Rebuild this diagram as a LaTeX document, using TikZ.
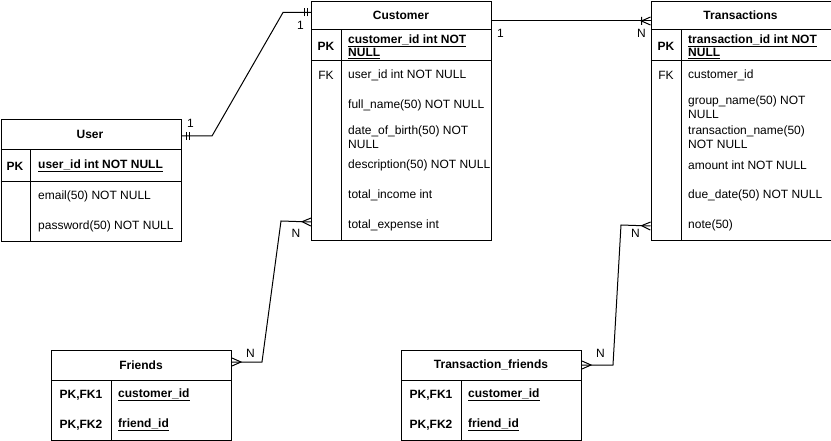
\documentclass[tikz,border=0pt]{standalone}
\usepackage{fontspec}
\setmainfont{Liberation Sans}
\usetikzlibrary{decorations.markings}
\tikzset{
  tbl/.style={draw,line width=1pt,minimum width=180pt,inner sep=0pt,anchor=north west},
  txt/.style={font=\fontsize{12}{13.5}\selectfont,inner sep=0pt},
  fld/.style={txt,anchor=west,align=left},
  pkf/.style={fld,font=\fontsize{12}{13.5}\selectfont\bfseries},
  key/.style={txt,font=\fontsize{12}{13.5}\selectfont\bfseries},
  card/.style={txt},
  conn/.style={line width=1pt},
  one start/.style={postaction={decorate,decoration={markings,mark=at position 0 with
    {\draw[line width=1pt] (5pt,-4pt)--(5pt,4pt) (8pt,-4pt)--(8pt,4pt);}}}},
  one end/.style={postaction={decorate,decoration={markings,mark=at position 1 with
    {\draw[line width=1pt] (-4pt,-4pt)--(-4pt,4pt) (-7pt,-4pt)--(-7pt,4pt);}}}},
  many start/.style={postaction={decorate,decoration={markings,mark=at position 0 with
    {\draw[line width=1pt] (0,-4pt)--(9pt,0)--(0,4pt);}}}},
  many end/.style={postaction={decorate,decoration={markings,mark=at position 1 with
    {\draw[line width=1pt] (0,-4pt)--(-9pt,0)--(0,4pt);}}}},
  onemany end/.style={postaction={decorate,decoration={markings,mark=at position 1 with
    {\draw[line width=1pt] (0,-4pt)--(-9pt,0)--(0,4pt) (-9pt,-4pt)--(-9pt,4pt);}}}},
}
\begin{document}
\begin{tikzpicture}[x=1pt,y=-1pt]
\useasboundingbox (0,0) rectangle (831,441);

% User
\node[tbl,minimum height=122pt] (user) at (0.5,119) {};
\draw[line width=1pt] (0.5,150)--(180.5,150) (0.5,182)--(180.5,182) (30,150)--(30,241);
\node[key] (usert) at (90,134.5) {User};
\node[key] (upk) at (15,166) {PK};
\node[pkf] (uid) at (38,166) {\underline{user\_id int NOT NULL}};
\node[fld] (umail) at (38,196) {email(50) NOT NULL};
\node[fld] (upass) at (38,226) {password(50) NOT NULL};

% Customer
\node[tbl,minimum height=239pt] (cust) at (311,1) {};
\draw[line width=1pt] (311,30)--(491,30) (311,61)--(491,61) (341,30)--(341,240);
\node[key] (custt) at (401,15.5) {Customer};
\node[key] (cpk) at (326,46) {PK};
\node[txt] (cfk) at (326,75) {FK};
\node[pkf] (cid) at (348,46.5) {\underline{customer\_id int NOT}\\\underline{NULL}};
\node[fld] (cuid) at (348,75) {user\_id int NOT NULL};
\node[fld] (cname) at (348,105) {full\_name(50) NOT NULL};
\node[fld] (cdob) at (348,137) {date\_of\_birth(50) NOT\\NULL};
\node[fld] (cdesc) at (348,165) {description(50) NOT NULL};
\node[fld] (cinc) at (348,195) {total\_income int};
\node[fld] (cexp) at (348,225) {total\_expense int};

% Transactions
\node[tbl,minimum height=239pt] (trans) at (650.5,1) {};
\draw[line width=1pt] (650.5,30)--(830.5,30) (650.5,61)--(830.5,61) (681,30)--(681,240);
\node[key] (transt) at (740.5,15.5) {Transactions};
\node[key] (tpk) at (666,46) {PK};
\node[txt] (tfk) at (666,75) {FK};
\node[pkf] (tid) at (688,46.5) {\underline{transaction\_id int NOT}\\\underline{NULL}};
\node[fld] (tcid) at (688,75) {customer\_id};
\node[fld] (tgrp) at (688,107) {group\_name(50) NOT\\NULL};
\node[fld] (tname) at (688,137) {transaction\_name(50)\\NOT NULL};
\node[fld] (tamt) at (688,165) {amount int NOT NULL};
\node[fld] (tdue) at (688,195) {due\_date(50) NOT NULL};
\node[fld] (tnote) at (688,225) {note(50)};

% Friends
\node[tbl,minimum height=90pt] (fr) at (51,350) {};
\draw[line width=1pt] (51,380)--(231,380) (111,380)--(111,440);
\node[key] (frt) at (141,365) {Friends};
\node[key] (fk1) at (81,395) {PK,FK1};
\node[key] (fk2) at (81,425) {PK,FK2};
\node[pkf] (fcid) at (118,395) {\underline{customer\_id}};
\node[pkf] (ffid) at (118,425) {\underline{friend\_id}};

% Transaction_friends
\node[tbl,minimum height=90pt] (txf) at (401,350) {};
\draw[line width=1pt] (401,380)--(581,380) (461,380)--(461,440);
\node[key] (txft) at (491,365) {Transaction\_friends};
\node[key] (xk1) at (431,395) {PK,FK1};
\node[key] (xk2) at (431,425) {PK,FK2};
\node[pkf] (xcid) at (468,395) {\underline{customer\_id}};
\node[pkf] (xfid) at (468,425) {\underline{friend\_id}};

% relations
\draw[conn,one start,one end] ([yshift=-17pt]user.north east) -- (212,136) -- (283,12.5) -- ([yshift=-11.5pt]cust.north west);
\draw[conn,onemany end] ([yshift=-20pt]cust.north east) -- ([yshift=-20pt]trans.north west);
\draw[conn,many start,many end] ([yshift=19pt]cust.south west) -- (281,221) -- (262,362) -- ([yshift=-12pt]fr.north east);
\draw[conn,many start,many end] ([yshift=15pt]trans.south west) -- (621,225) -- (613,365) -- ([yshift=-15pt]txf.north east);

\node[card] (c1) at (190.5,123) {1};
\node[card] (c2) at (300.5,25) {1};
\node[card] (c3) at (500.5,33) {1};
\node[card] (c4) at (641.5,33) {N};
\node[card] (c5) at (296,233) {N};
\node[card] (c6) at (250.5,353) {N};
\node[card] (c7) at (635.5,233) {N};
\node[card] (c8) at (600.5,353) {N};
\end{tikzpicture}
\end{document}
